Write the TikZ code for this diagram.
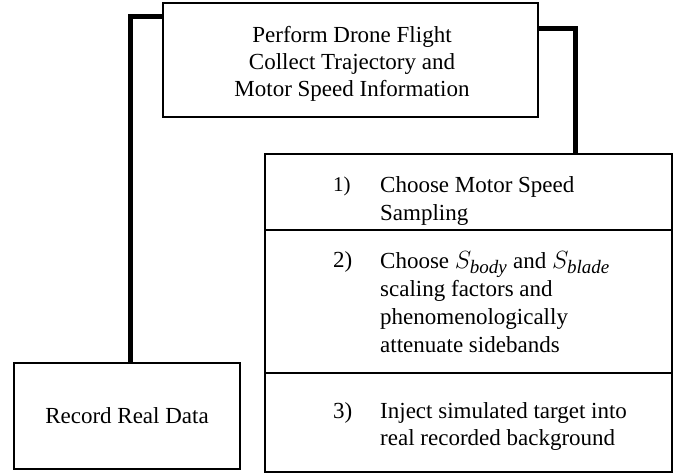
\documentclass[tikz,border=0pt]{standalone}
\usepackage{fontspec}
\setmainfont{Liberation Serif}
\newcommand{\subit}[1]{\hbox{\fontsize{19}{19}\selectfont\itshape #1}}
\begin{document}
\begin{tikzpicture}[x=1pt,y=-1pt,
  box/.style={draw, line width=1.2pt, inner sep=0pt},
  txt/.style={font=\fontsize{23}{27}\selectfont, inner sep=0pt},
  steptxt/.style={font=\fontsize{23}{28}\selectfont, inner sep=0pt, align=left, anchor=north west},
  num/.style={font=\fontsize{21}{25}\selectfont, inner sep=0pt, anchor=base west},
  link/.style={line width=5pt}]
\useasboundingbox (0,0) rectangle (687,473);
% boxes
\node[box, minimum width=375, minimum height=114] (top) at (350.5,60) {};
\node[txt, align=center, anchor=north] (toptext) at (352,26) {Perform Drone Flight\\Collect Trajectory and\\Motor Speed Information};
\node[box, txt, minimum width=226, minimum height=106] (rec) at (127,416) {Record Real Data};
\node[box, minimum width=407, minimum height=76] (s1) at (468.5,192) {};
\node[box, minimum width=407, minimum height=143] (s2) at (468.5,301.5) {};
\node[box, minimum width=407, minimum height=99] (s3) at (468.5,422.5) {};
% step texts
\node[num] (n1) at (333,191.7) {1)};
\node[steptxt] (t1) at (380,176) {Choose Motor Speed\\Sampling};
\node[num, font=\fontsize{23}{28}\selectfont] (n2) at (333,267) {2)};
\node[steptxt] (t2) at (380,251.3) {Choose $S_{\subit{body}}$ and $S_{\subit{blade}}$\\scaling factors and\\phenomenologically\\attenuate sidebands};
\node[num, font=\fontsize{23}{28}\selectfont] (n3) at (333,418) {3)};
\node[steptxt, font=\fontsize{23}{27}\selectfont] (t3) at (380,402.3) {Inject simulated target into\\real recorded background};
% connectors
\draw[link] ([yshift=-14.5pt]top.north west) -| ([xshift=3.5pt]rec.north);
\draw[link] ([yshift=-26pt]top.north east) -| ([xshift=107pt]s1.north);
\end{tikzpicture}
\end{document}
